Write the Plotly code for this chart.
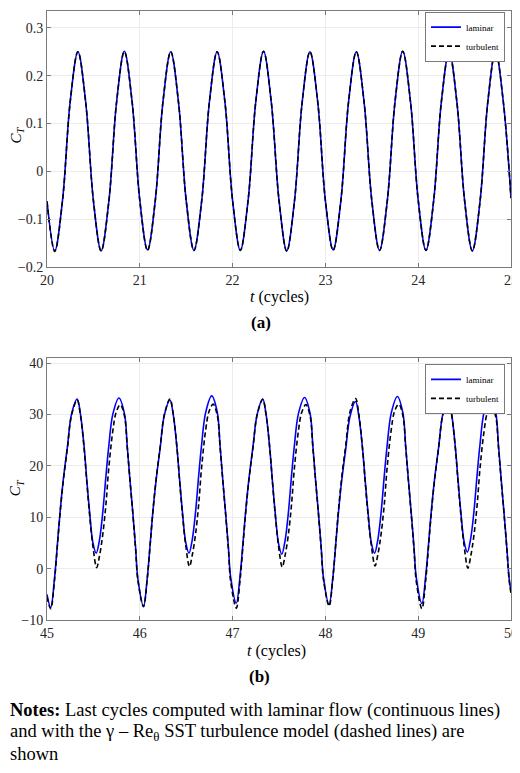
import plotly.graph_objects as go

# (a) t = 20..25 cycles, sampled every 1/12 cycle
t_a = [20 + k / 12 for k in range(61)]
ct_a_laminar = [-0.062,
                -0.166, -0.061, 0.146, 0.250, 0.145, -0.061,
                -0.166, -0.062, 0.145, 0.251, 0.146, -0.060,
                -0.164, -0.061, 0.146, 0.250, 0.145, -0.061,
                -0.165, -0.062, 0.145, 0.250, 0.146, -0.061,
                -0.165, -0.061, 0.146, 0.251, 0.145, -0.060,
                -0.166, -0.062, 0.145, 0.250, 0.146, -0.061,
                -0.164, -0.061, 0.146, 0.250, 0.145, -0.061,
                -0.165, -0.062, 0.145, 0.251, 0.146, -0.060,
                -0.165, -0.061, 0.146, 0.250, 0.145, -0.061,
                -0.166, -0.062, 0.145, 0.251, 0.146, -0.055]
ct_a_turbulent = [-0.063,
                  -0.167, -0.062, 0.145, 0.250, 0.145, -0.061,
                  -0.166, -0.062, 0.145, 0.250, 0.146, -0.061,
                  -0.165, -0.061, 0.146, 0.250, 0.145, -0.061,
                  -0.165, -0.062, 0.145, 0.250, 0.146, -0.061,
                  -0.165, -0.061, 0.146, 0.251, 0.145, -0.060,
                  -0.167, -0.062, 0.145, 0.250, 0.146, -0.061,
                  -0.165, -0.061, 0.146, 0.250, 0.145, -0.061,
                  -0.165, -0.062, 0.145, 0.251, 0.146, -0.060,
                  -0.165, -0.061, 0.146, 0.250, 0.145, -0.061,
                  -0.166, -0.062, 0.145, 0.251, 0.146, -0.056]

# (b) t = 45..50 cycles, points read inside each cycle
cycles_b = [45, 46, 47, 48, 49]
phase_laminar = [0.04, 0.08, 0.11, 0.14, 0.175, 0.22, 0.265, 0.325, 0.36, 0.40, 0.43, 0.46, 0.495,
                 0.53, 0.565, 0.60, 0.635, 0.665, 0.71, 0.775, 0.835, 0.865, 0.895, 0.925, 0.955, 0.98]
phase_turbulent = [0.04, 0.08, 0.11, 0.14, 0.175, 0.22, 0.265, 0.325, 0.36, 0.40, 0.43, 0.46, 0.495,
                   0.535, 0.565, 0.60, 0.635, 0.665, 0.71, 0.745, 0.79, 0.835, 0.865, 0.895, 0.925, 0.955, 0.98]

ct_b_laminar = [
    -5.0,
    -7.6, -2.1, 4.3, 10.8, 17.2, 23.7, 30.1, 33.0, 30.1, 23.7, 17.0, 10.8, 5.0,
    3.0, 5.5, 10.8, 18.0, 23.7, 30.1, 33.2, 30.1, 23.7, 17.0, 10.8, 4.0, -2.1,
    -7.3, -1.9, 4.4, 10.9, 17.1, 23.6, 29.9, 32.8, 30.0, 23.6, 17.1, 10.9, 5.1,
    3.0, 5.6, 10.9, 18.2, 23.9, 30.4, 33.6, 30.4, 23.9, 17.1, 10.7, 4.1, -1.8,
    -6.7, -1.5, 4.6, 11.0, 17.3, 23.8, 30.0, 33.0, 30.1, 23.5, 16.9, 10.7, 4.9,
    2.8, 5.4, 10.7, 18.1, 23.8, 30.2, 33.3, 30.2, 23.8, 17.0, 10.8, 4.0, -1.9,
    -7.0, -1.8, 4.4, 10.8, 17.0, 23.4, 29.6, 32.5, 29.7, 23.4, 16.9, 10.8, 5.0,
    3.0, 5.6, 10.9, 18.2, 23.9, 30.3, 33.5, 30.3, 23.8, 17.1, 10.8, 4.1, -1.8,
    -6.8, -1.6, 4.5, 10.9, 17.2, 23.6, 30.0, 33.0, 30.1, 23.7, 17.1, 10.9, 5.2,
    3.2, 5.8, 11.0, 18.3, 24.0, 30.5, 33.8, 30.5, 24.0, 17.2, 10.8, 4.1, -1.9,
    -4.4]
ct_b_turbulent = [
    -5.5,
    -7.8, -2.4, 4.0, 10.6, 17.0, 23.5, 29.9, 32.8, 29.9, 23.4, 16.6, 10.3, 4.3,
    0.2, 2.4, 6.5, 12.5, 19.4, 26.9, 30.4, 31.9, 29.7, 23.6, 17.0, 10.7, 3.8, -2.3,
    -7.4, -2.0, 4.3, 10.9, 17.2, 23.7, 30.0, 33.0, 30.1, 23.6, 16.8, 10.5, 4.5,
    0.4, 2.6, 6.6, 12.6, 19.5, 27.0, 30.5, 32.0, 29.8, 23.7, 17.0, 10.6, 3.7, -2.6,
    -7.7, -2.3, 4.1, 10.7, 17.1, 23.6, 30.0, 32.9, 30.0, 23.5, 16.7, 10.4, 4.4,
    0.3, 2.5, 6.5, 12.5, 19.4, 26.9, 30.4, 31.9, 29.7, 23.6, 17.0, 10.7, 3.9, -2.2,
    -7.3, -1.9, 4.5, 11.2, 17.6, 24.1, 30.5, 33.1, 30.0, 23.4, 16.7, 10.4, 4.5,
    0.5, 2.7, 6.7, 12.6, 19.6, 27.1, 30.6, 32.0, 29.8, 23.7, 17.0, 10.6, 3.7, -2.6,
    -7.8, -2.4, 4.0, 10.6, 17.0, 23.5, 29.9, 32.9, 30.0, 23.5, 16.7, 10.4, 4.4,
    0.1, 2.3, 6.4, 12.4, 19.3, 26.8, 30.3, 31.7, 29.6, 23.6, 17.0, 10.7, 3.9, -2.2,
    -4.8]

t_b_laminar = [45.0] + [c + p for c in cycles_b for p in phase_laminar] + [50.0]
t_b_turbulent = [45.0] + [c + p for c in cycles_b for p in phase_turbulent] + [50.0]

serif = "Liberation Serif"
axcol = "#7a7a7a"

fig = go.Figure()

fig.add_trace(go.Scatter(x=t_a, y=ct_a_laminar, mode="lines", name="laminar",
                         line=dict(color="#0000ff", width=1.6, shape="spline"),
                         xaxis="x", yaxis="y", legend="legend"))
fig.add_trace(go.Scatter(x=t_a, y=ct_a_turbulent, mode="lines", name="turbulent",
                         line=dict(color="black", width=1.6, dash="5px,3px", shape="spline"),
                         xaxis="x", yaxis="y", legend="legend"))
fig.add_trace(go.Scatter(x=t_b_laminar, y=ct_b_laminar, mode="lines", name="laminar",
                         line=dict(color="#0000ff", width=1.6, shape="spline"),
                         xaxis="x2", yaxis="y2", legend="legend2"))
fig.add_trace(go.Scatter(x=t_b_turbulent, y=ct_b_turbulent, mode="lines", name="turbulent",
                         line=dict(color="black", width=1.6, dash="5px,3px", shape="spline"),
                         xaxis="x2", yaxis="y2", legend="legend2"))

axis_common = dict(showline=True, linecolor=axcol, linewidth=1, mirror="ticks",
                   ticks="inside", ticklen=4, tickcolor=axcol,
                   showgrid=True, gridcolor="#ececec", gridwidth=1, zeroline=False,
                   tickfont=dict(family=serif, size=14, color="#262626"))

legend_common = dict(font=dict(family=serif, size=9, color="black"),
                     bgcolor="white", bordercolor=axcol, borderwidth=1,
                     xanchor="right", yanchor="top", itemwidth=30, tracegroupgap=0)

# the page adds an 8px body margin, so the figure is sized to what is left
fig.update_layout(
    width=512, height=757,
    margin=dict(l=39, r=9, t=1, b=145),
    paper_bgcolor="white", plot_bgcolor="white",
    font=dict(family=serif, color="black"),
    xaxis=dict(domain=[0, 1], range=[20, 25], dtick=1, anchor="y", **axis_common),
    yaxis=dict(domain=[0.5794, 1], range=[-0.2, 0.335], dtick=0.1, anchor="x", **axis_common),
    xaxis2=dict(domain=[0, 1], range=[45, 50], dtick=1, anchor="y2", **axis_common),
    yaxis2=dict(domain=[0, 0.4304], range=[-10, 41], dtick=10, anchor="x2", **axis_common),
    legend=dict(x=0.987, y=0.999, **legend_common),
    legend2=dict(x=0.987, y=0.4206, **legend_common),
)

labels = [
    ("<i>t</i> (cycles)", 0.5, 0.5303, 16),
    ("<b>(a)</b>", 0.461, 0.4877, 17),
    ("<i>t</i> (cycles)", 0.495, -0.0507, 16),
    ("<b>(b)</b>", 0.457, -0.0933, 17),
]
for text, xpos, ypos, size in labels:
    fig.add_annotation(text=text, x=xpos, y=ypos, xref="paper", yref="paper",
                       showarrow=False, xanchor="center", yanchor="middle",
                       font=dict(family=serif, size=size, color="black"))

for ypos in (0.797, 0.2177):
    fig.add_annotation(text="<i>C<sub>T</sub></i>", x=-0.065, y=ypos, xref="paper", yref="paper",
                       showarrow=False, textangle=-90, xanchor="center", yanchor="middle",
                       font=dict(family=serif, size=15, color="black"))

notes = [
    "<b>Notes:</b> Last cycles computed with laminar flow (continuous lines)",
    "and with the γ – Re<sub>θ</sub> SST turbulence model (dashed lines) are",
    "shown",
]
for line, ypos in zip(notes, (-0.1489, -0.1849, -0.2193)):
    fig.add_annotation(text=line, x=-0.084, y=ypos, xref="paper", yref="paper",
                       showarrow=False, xanchor="left", yanchor="middle", align="left",
                       font=dict(family=serif, size=18.5, color="black"))

fig.write_html("out.html")
